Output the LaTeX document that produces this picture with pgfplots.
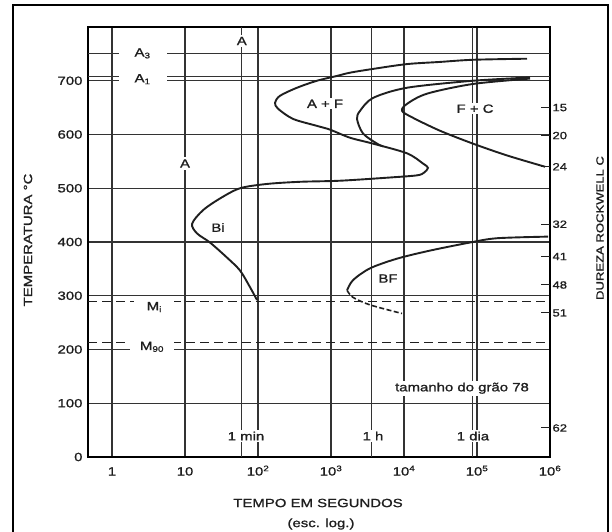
\documentclass[border=0pt]{standalone}
\usepackage{fontspec}
\setmainfont{Liberation Sans}[FakeStretch=1.25, FakeBold=1.2]
\usepackage{pgfplots}
\pgfplotsset{compat=1.18}
\definecolor{ink}{gray}{0.12}
\definecolor{gridc}{gray}{0.2}
\newcommand{\lbl}{\fontsize{12}{14}\selectfont}
\newcommand{\sml}{\fontsize{10.5}{12}\selectfont}
\begin{document}
\begin{tikzpicture}[x=1bp,y=1bp]
\useasboundingbox (0,0) rectangle (612,532);
\draw[line width=1.8bp, black] (13,-5) -- (13,527) -- (608,527) -- (608,-5);
\begin{axis}[
  at={(88bp,75bp)}, anchor=south west,
  scale only axis, width=462bp, height=430bp,
  xmode=log, xmin=0.469, xmax=1000000, ymin=0, ymax=800,
  xtick={1,10,100,1000,10000,100000,1000000},
  xticklabels={1,10,10\textsuperscript{2},10\textsuperscript{3},10\textsuperscript{4},10\textsuperscript{5},10\textsuperscript{6}},
  ytick={0,100,200,300,400,500,600,700},
  yticklabels={0,100,200,300,400,500,600,700},
  minor xtick={}, minor ytick={},
  major tick length=0pt, minor tick length=0pt,
  grid=major, major grid style={gridc, line width=1.3bp},
  axis line style={line width=1.5bp, black},
  tick label style={font=\lbl, text=ink},
  xticklabel style={anchor=north, yshift=-6bp, text height=9bp, text depth=0pt},
  yticklabel style={xshift=-2bp},
  clip=false,
]
% time-reference lines (1 min, 1 h, 1 dia)
\addplot[gridc, line width=1.3bp, forget plot] coordinates {(60,0) (60,800)};
\addplot[gridc, line width=1.3bp, forget plot] coordinates {(3600,0) (3600,800)};
\addplot[gridc, line width=1.3bp, forget plot] coordinates {(86400,0) (86400,800)};
% critical lines
\addplot[gridc, line width=1.2bp, forget plot] coordinates {(0.469,750) (1000000,750)};
\addplot[gridc, line width=1.2bp, forget plot] coordinates {(0.469,708) (1000000,708)};
\addplot[ink, line width=1.1bp, dash pattern=on 9bp off 5bp, forget plot] coordinates {(0.469,289) (1000000,289)};
\addplot[ink, line width=1.1bp, dash pattern=on 9bp off 5bp, forget plot] coordinates {(0.469,213) (1000000,213)};

% white-backed labels (gaps in lines)
\node[fill=white, inner sep=1bp, minimum width=48bp, minimum height=13bp, text=ink, font=\lbl] at (axis cs:2.62,751) {A\textsubscript{3}};
\node[fill=white, inner sep=1bp, minimum width=48bp, minimum height=15bp, text=ink, font=\lbl] at (axis cs:2.62,703) {A\textsubscript{1}};
\node[fill=white, inner sep=1bp, minimum width=40bp, minimum height=15bp, text=ink, font=\lbl] at (axis cs:3.8,279) {M\textsubscript{i}};
\node[fill=white, inner sep=1bp, minimum width=44bp, minimum height=16bp, text=ink, font=\lbl] at (axis cs:3.53,205) {M\textsubscript{90}};
\node[fill=white, inner sep=2bp, text=ink, font=\lbl] at (axis cs:10,546) {A};
\node[fill=white, inner sep=2bp, text=ink, font=\lbl] at (axis cs:60,774) {A};
\node[fill=white, inner sep=1.5bp, text=ink, font=\lbl] at (axis cs:828,657) {A + F};
\node[fill=white, inner sep=1.5bp, text=ink, font=\lbl] at (axis cs:94000,648) {F + C};
\node[fill=white, inner sep=1.5bp, text=ink, font=\lbl] at (axis cs:28.3,427) {Bi};
\node[fill=white, inner sep=1.5bp, text=ink, font=\lbl] at (axis cs:6030,332) {BF};
\node[fill=white, inner sep=2bp, text=ink, font=\lbl] at (axis cs:68.5,39) {1 min};
\node[fill=white, inner sep=2bp, text=ink, font=\lbl] at (axis cs:3760,39) {1 h};
\node[fill=white, inner sep=2bp, text=ink, font=\lbl] at (axis cs:88000,39) {1 dia};
\node[fill=white, inner sep=2bp, text=ink, font=\lbl] at (axis cs:62300,128) {tamanho do grão 78};

% transformation curves
\addplot[ink, line width=1.9bp, smooth, tension=0.5] coordinates {
(484000,741) (88000,739) (31100,735) (11000,731) (3760,722) (1820,715) (1210,709) (643,700) (342,687) (200,672) (171,659) (188,648) (302,629) (643,616) (969,609) (1820,594) (3760,583) (11000,565) (18200,546) (21300,538) (18800,529) (15100,524) (6430,520) (1330,514) (376,512) (133,508) (56.7,500) (30.2,481) (17.6,459) (12.5,434) (14.6,416) (22,399) (37.6,371) (56.7,347) (77.7,316) (96.9,292)};
\addplot[ink, line width=1.9bp, smooth, tension=0.5] coordinates {
(532000,706) (88000,700) (11000,687) (3760,668) (2500,644) (2270,629) (2740,602) (4270,583) (5160,578)};
\addplot[ink, line width=1.9bp, smooth, tension=0.5] coordinates {
(532000,704) (88000,694) (20700,676) (11000,657) (9390,644) (13300,631) (31100,607) (88000,583) (258000,561) (855000,540)};
\addplot[ink, line width=1.9bp, smooth, tension=0.5] coordinates {
(940000,410) (188000,407) (80000,399) (22700,384) (8020,369) (3420,351) (2000,329) (1660,310)};
\addplot[ink, line width=1.6bp, smooth, tension=0.5, dash pattern=on 5bp off 2.5bp] coordinates {
(1660,310) (2000,297) (3420,283) (9390,267)};

% hardness scale (Rockwell C)
\draw[ink, line width=1bp] ([xshift=-9bp]axis cs:1000000,650) -- (axis cs:1000000,650) node[anchor=west, font=\sml, inner sep=2bp] {15};
\draw[ink, line width=1bp] ([xshift=-9bp]axis cs:1000000,598) -- (axis cs:1000000,598) node[anchor=west, font=\sml, inner sep=2bp] {20};
\draw[ink, line width=1bp] ([xshift=-9bp]axis cs:1000000,540) -- (axis cs:1000000,540) node[anchor=west, font=\sml, inner sep=2bp] {24};
\draw[ink, line width=1bp] ([xshift=-9bp]axis cs:1000000,433) -- (axis cs:1000000,433) node[anchor=west, font=\sml, inner sep=2bp] {32};
\draw[ink, line width=1bp] ([xshift=-9bp]axis cs:1000000,373) -- (axis cs:1000000,373) node[anchor=west, font=\sml, inner sep=2bp] {41};
\draw[ink, line width=1bp] ([xshift=-9bp]axis cs:1000000,320) -- (axis cs:1000000,320) node[anchor=west, font=\sml, inner sep=2bp] {48};
\draw[ink, line width=1bp] ([xshift=-9bp]axis cs:1000000,268) -- (axis cs:1000000,268) node[anchor=west, font=\sml, inner sep=2bp] {51};
\draw[ink, line width=1bp] ([xshift=-9bp]axis cs:1000000,54) -- (axis cs:1000000,54) node[anchor=west, font=\sml, inner sep=2bp] {62};
\end{axis}
\node[rotate=90, text=ink, font=\lbl] at (28,292) {TEMPERATURA °C};
\node[rotate=90, text=ink, font=\sml] at (600,304) {DUREZA ROCKWELL C};
\node[text=ink, font=\lbl] at (318,29) {TEMPO EM SEGUNDOS};
\node[text=ink, font=\lbl] at (321,8) {(esc. log.)};
\end{tikzpicture}
\end{document}
